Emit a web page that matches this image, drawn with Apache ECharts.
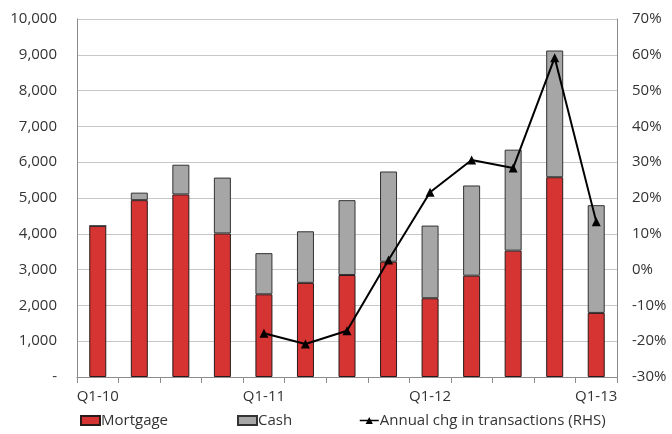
<!DOCTYPE html>
<html>
<head>
<meta charset="utf-8">
<script src="https://cdn.jsdelivr.net/npm/echarts@6/dist/echarts.min.js"></script>
<style>
  html, body { margin: 0; padding: 0; background: #fff; }
  #chart { width: 672px; height: 434px; }
</style>
</head>
<body>
<div id="chart"></div>
<script>
// Quarterly housing transactions, split by funding type, plus annual change
const quarters = ['Q1-10', 'Q2-10', 'Q3-10', 'Q4-10', 'Q1-11', 'Q2-11', 'Q3-11', 'Q4-11',
                  'Q1-12', 'Q2-12', 'Q3-12', 'Q4-12', 'Q1-13'];
const mortgage = [4220, 4940, 5100, 4010, 2310, 2630, 2850, 3220, 2200, 2830, 3530, 5580, 1790];
const cash     = [0, 210, 830, 1560, 1150, 1440, 2090, 2520, 2030, 2520, 2820, 3540, 3010];
const annualChg = [null, null, null, null, -17.8, -20.8, -17.1, 2.7, 21.6, 30.6, 28.4, 59.2, 13.4];

const leftTicks = { min: 0, max: 10000, step: 1000 };
const rightTicks = { min: -30, max: 70, step: 10 };

const FONT = 'Open Sans';
const TEXT = '#333333';
const AXIS = '#8c8c8c';

const chart = echarts.init(document.getElementById('chart'), null, { renderer: 'canvas' });

const legendText = { fontFamily: FONT, fontSize: 15, color: TEXT, padding: [0, 0, 0, -4] };

chart.setOption({
  animation: false,
  textStyle: { fontFamily: FONT },
  grid: { left: 77, right: 55, top: 19, bottom: 57 },
  legend: [
    { data: [{ name: 'Mortgage', icon: 'rect' }], left: 80, top: 413, itemWidth: 19, itemHeight: 9,
      textStyle: legendText, padding: 0 },
    { data: [{ name: 'Cash', icon: 'rect' }], left: 237, top: 413, itemWidth: 19, itemHeight: 9,
      textStyle: legendText, padding: 0 },
    { data: ['Annual chg in transactions (RHS)'], left: 359, top: 413, itemWidth: 19, itemHeight: 9,
      textStyle: legendText, padding: 0,
      lineStyle: { width: 1.5 } }
  ],
  xAxis: {
    type: 'category',
    data: quarters,
    boundaryGap: true,
    axisLine: { lineStyle: { color: AXIS, width: 1 } },
    axisTick: { show: true, interval: 0, length: 6, lineStyle: { color: AXIS } },
    axisLabel: {
      interval: 3, color: TEXT, fontSize: 15, fontFamily: FONT, margin: 12
    },
    splitLine: { show: false }
  },
  yAxis: [
    {
      type: 'value',
      min: leftTicks.min, max: leftTicks.max, interval: leftTicks.step,
      axisLine: { show: true, lineStyle: { color: AXIS } },
      axisTick: { show: false },
      axisLabel: {
        color: TEXT, fontSize: 15, fontFamily: FONT, margin: 20,
        formatter: v => v === 0 ? '-' : v.toLocaleString('en-US')
      },
      splitLine: { show: true, lineStyle: { color: '#c8c8c8', width: 1 } }
    },
    {
      type: 'value',
      min: rightTicks.min, max: rightTicks.max, interval: rightTicks.step,
      axisLine: { show: true, lineStyle: { color: AXIS } },
      axisTick: { show: false },
      axisLabel: {
        color: TEXT, fontSize: 15, fontFamily: FONT, margin: 15,
        formatter: v => v + '%'
      },
      splitLine: { show: false }
    }
  ],
  series: [
    {
      name: 'Mortgage', type: 'bar', stack: 'tx', data: mortgage,
      barWidth: 17,
      itemStyle: { color: '#d63333', borderColor: '#2a1a1a', borderWidth: 1 }
    },
    {
      name: 'Cash', type: 'bar', stack: 'tx', data: cash,
      barWidth: 17,
      itemStyle: { color: '#a6a6a6', borderColor: '#333333', borderWidth: 1 }
    },
    {
      name: 'Annual chg in transactions (RHS)', type: 'line', yAxisIndex: 1,
      data: annualChg,
      connectNulls: false,
      symbol: 'triangle', symbolSize: 9,
      lineStyle: { color: '#000', width: 2 },
      itemStyle: { color: '#000' },
      z: 5
    }
  ]
});
</script>
</body>
</html>
